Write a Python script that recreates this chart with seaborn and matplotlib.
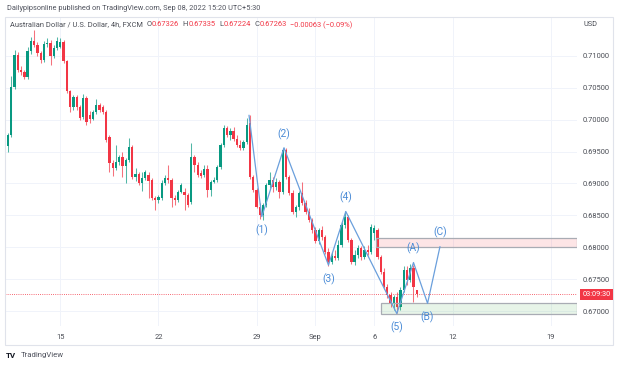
import matplotlib
matplotlib.use("Agg")
import matplotlib.pyplot as plt
import matplotlib.transforms as mtransforms
from matplotlib.patches import Rectangle
import seaborn as sns
import pandas as pd
import numpy as np

# ---------------- data (AUD/USD 4h, FXCM) ----------------
opens = [
    0.6959, 0.6976, 0.7051, 0.7101, 0.7078, 0.7075, 0.7067, 0.7108, 0.7123, 0.7117,
    0.7105, 0.7094, 0.7119, 0.7120, 0.7100, 0.7112, 0.7114, 0.7122, 0.7092, 0.7045,
    0.7020, 0.7036, 0.7020, 0.7004, 0.7034, 0.7007, 0.7001, 0.7012, 0.7023, 0.7020,
    0.7012, 0.6973, 0.6932, 0.6924, 0.6934, 0.6941, 0.6927, 0.6937, 0.6957, 0.6910,
    0.6915, 0.6901, 0.6909, 0.6913, 0.6905, 0.6877, 0.6874, 0.6877, 0.6901, 0.6909,
    0.6905, 0.6877, 0.6874, 0.6887, 0.6887, 0.6882, 0.6871, 0.6941, 0.6929, 0.6916,
    0.6913, 0.6923, 0.6890, 0.6902, 0.6905, 0.6926, 0.6960, 0.6987, 0.6976, 0.6982,
    0.6970, 0.6960, 0.6956, 0.6965, 0.6995, 0.6910, 0.6890, 0.6863, 0.6851, 0.6866,
    0.6898, 0.6905, 0.6894, 0.6902, 0.6887, 0.6952, 0.6910, 0.6885, 0.6855, 0.6863,
    0.6885, 0.6869, 0.6855, 0.6843, 0.6827, 0.6810, 0.6827, 0.6816, 0.6793, 0.6777,
    0.6786, 0.6783, 0.6803, 0.6835, 0.6847, 0.6811, 0.6777, 0.6788, 0.6799, 0.6785,
    0.6796, 0.6793, 0.6822, 0.6827, 0.6785, 0.6761, 0.6738, 0.6725, 0.6713, 0.6722,
    0.6706, 0.6733, 0.6764, 0.6749, 0.6767, 0.67326,
]
highs = [
    0.6979, 0.7068, 0.7109, 0.7106, 0.7084, 0.7078, 0.7114, 0.7130, 0.7141, 0.7122,
    0.7108, 0.7123, 0.7128, 0.7125, 0.7117, 0.7130, 0.7128, 0.7125, 0.7094, 0.7047,
    0.7039, 0.7039, 0.7023, 0.7040, 0.7037, 0.7014, 0.7015, 0.7032, 0.7026, 0.7023,
    0.7015, 0.6976, 0.6937, 0.6960, 0.6945, 0.6949, 0.6940, 0.6971, 0.6960, 0.6924,
    0.6918, 0.6918, 0.6921, 0.6918, 0.6909, 0.6880, 0.6882, 0.6905, 0.6913, 0.6929,
    0.6909, 0.6882, 0.6890, 0.6901, 0.6893, 0.6885, 0.6963, 0.6945, 0.6934, 0.6921,
    0.6929, 0.6929, 0.6905, 0.6910, 0.6929, 0.6963, 0.6992, 0.6990, 0.6987, 0.6989,
    0.6976, 0.6968, 0.6968, 0.7003, 0.7007, 0.6913, 0.6893, 0.6869, 0.6869, 0.6901,
    0.6918, 0.6910, 0.6909, 0.6905, 0.6956, 0.6956, 0.6913, 0.6890, 0.6866, 0.6888,
    0.6902, 0.6874, 0.6862, 0.6846, 0.6832, 0.6830, 0.6833, 0.6819, 0.6799, 0.6793,
    0.6796, 0.6811, 0.6840, 0.6857, 0.6851, 0.6814, 0.6796, 0.6803, 0.6802, 0.6802,
    0.6803, 0.6836, 0.6835, 0.6830, 0.6788, 0.6767, 0.6742, 0.6730, 0.6725, 0.6730,
    0.6738, 0.6771, 0.6771, 0.6774, 0.6772, 0.67335,
]
lows = [
    0.6949, 0.6973, 0.7048, 0.7075, 0.7070, 0.7064, 0.7064, 0.7103, 0.7114, 0.7100,
    0.7089, 0.7090, 0.7114, 0.7086, 0.7097, 0.7109, 0.7112, 0.7089, 0.7042, 0.7012,
    0.7015, 0.7015, 0.6999, 0.7001, 0.6992, 0.6995, 0.6999, 0.7009, 0.7012, 0.7009,
    0.6965, 0.6918, 0.6912, 0.6921, 0.6929, 0.6910, 0.6901, 0.6934, 0.6907, 0.6904,
    0.6898, 0.6888, 0.6905, 0.6877, 0.6874, 0.6858, 0.6869, 0.6874, 0.6898, 0.6901,
    0.6863, 0.6866, 0.6871, 0.6885, 0.6858, 0.6863, 0.6868, 0.6918, 0.6910, 0.6909,
    0.6910, 0.6879, 0.6880, 0.6901, 0.6902, 0.6923, 0.6957, 0.6973, 0.6968, 0.6967,
    0.6957, 0.6952, 0.6952, 0.6962, 0.6907, 0.6887, 0.6862, 0.6844, 0.6843, 0.6863,
    0.6893, 0.6887, 0.6890, 0.6877, 0.6883, 0.6907, 0.6882, 0.6852, 0.6847, 0.6858,
    0.6866, 0.6852, 0.6840, 0.6822, 0.6807, 0.6805, 0.6811, 0.6789, 0.6771, 0.6774,
    0.6780, 0.6780, 0.6800, 0.6830, 0.6808, 0.6774, 0.6772, 0.6783, 0.6780, 0.6782,
    0.6788, 0.6789, 0.6811, 0.6782, 0.6758, 0.6734, 0.6720, 0.6706, 0.6702, 0.6697,
    0.6702, 0.6730, 0.6741, 0.6745, 0.6714, 0.67224,
]
closes = [
    0.6976, 0.7051, 0.7101, 0.7078, 0.7075, 0.7067, 0.7108, 0.7123, 0.7117, 0.7105,
    0.7094, 0.7119, 0.7120, 0.7100, 0.7112, 0.7123, 0.7122, 0.7092, 0.7045, 0.7020,
    0.7036, 0.7020, 0.7003, 0.7034, 0.6996, 0.7001, 0.7012, 0.7023, 0.7015, 0.7012,
    0.6968, 0.6932, 0.6924, 0.6934, 0.6941, 0.6927, 0.6937, 0.6957, 0.6910, 0.6915,
    0.6901, 0.6909, 0.6918, 0.6904, 0.6877, 0.6874, 0.6879, 0.6901, 0.6909, 0.6905,
    0.6877, 0.6874, 0.6887, 0.6898, 0.6882, 0.6866, 0.6941, 0.6929, 0.6913, 0.6912,
    0.6923, 0.6890, 0.6902, 0.6905, 0.6926, 0.6960, 0.6987, 0.6976, 0.6982, 0.6970,
    0.6960, 0.6956, 0.6965, 0.6992, 0.6910, 0.6890, 0.6863, 0.6851, 0.6866, 0.6898,
    0.6905, 0.6894, 0.6902, 0.6887, 0.6952, 0.6910, 0.6885, 0.6855, 0.6863, 0.6885,
    0.6869, 0.6855, 0.6843, 0.6827, 0.6810, 0.6827, 0.6816, 0.6793, 0.6777, 0.6786,
    0.6783, 0.6803, 0.6835, 0.6847, 0.6811, 0.6777, 0.6788, 0.6799, 0.6785, 0.6796,
    0.6793, 0.6832, 0.6830, 0.6785, 0.6761, 0.6738, 0.6725, 0.6713, 0.6722, 0.6706,
    0.6733, 0.6764, 0.6749, 0.6767, 0.6738, 0.67263,
]

date_tick_bars = [16, 46, 76, 94, 112, 136, 166]
date_tick_labels = ["15", "22", "29", "Sep", "6", "12", "19"]
price_ticks = [0.670, 0.675, 0.680, 0.685, 0.690, 0.695, 0.700, 0.705, 0.710]

wave_bars = [73.7, 77.6, 84.4, 98.0, 103.3, 118.9, 124.0, 128.3, 132.1]
wave_prices = [0.7007, 0.6848, 0.6956, 0.6772, 0.6856, 0.6696, 0.6776, 0.6712, 0.6801]
wave_labels = ["", "(1)", "(2)", "(3)", "(4)", "(5)", "(A)", "(B)", "(C)"]

resist_zone = (112.5, 0.6800, 0.6814)
support_zone = (114.0, 0.6695, 0.6712)

last_price = 0.67263
countdown = "03:09:30"

# ---------------- styling ----------------
sns.set_theme(style="white")
plt.rcParams['font.family'] = ['Roboto', 'DejaVu Sans']

UP = "#089981"
DOWN = "#f23645"
WAVE = "#6a9fdc"
WAVE_TXT = "#4a8bd6"
GRID = "#f0f3fa"
TXT = "#4a4d55"

W, H = 625, 367
fig = plt.figure(figsize=(W / 100, H / 100), dpi=100)
fig.patch.set_facecolor("white")
ax = fig.add_axes([5 / W, 1 - 326 / H, (577 - 5) / W, (326 - 17) / H])

XMIN, XMAX = -0.92, 174.0
ax.set_xlim(XMIN, XMAX)
ax.set_ylim(0.66765, 0.71610)

df = pd.DataFrame({"bar": np.arange(len(opens)), "open": opens, "high": highs,
                   "low": lows, "close": closes})
up = df["close"] >= df["open"]
cols = np.where(up, UP, DOWN)
body_lo = np.minimum(df["open"], df["close"])
body_h = np.maximum((df["close"] - df["open"]).abs(), 0.00005)

ax.vlines(df["bar"], df["low"], df["high"], colors=cols, lw=0.75, alpha=0.7, zorder=3)
ax.bar(df["bar"], body_h, bottom=body_lo, width=0.7, color=cols, linewidth=0, zorder=4)

# zones
ax.add_patch(Rectangle((resist_zone[0], resist_zone[1]), XMAX - resist_zone[0],
                       resist_zone[2] - resist_zone[1], fc=(0.95, 0.21, 0.27, 0.13),
                       ec="#a9acb4", lw=0.9, zorder=5, clip_on=True))
ax.add_patch(Rectangle((support_zone[0], support_zone[1]), XMAX - support_zone[0],
                       support_zone[2] - support_zone[1], fc=(0.30, 0.69, 0.31, 0.13),
                       ec="#a9acb4", lw=0.9, zorder=5, clip_on=True))

# current price line
ax.axhline(last_price, color=DOWN, lw=0.6, ls=(0, (1, 1.6)), zorder=2)

# Elliott wave
wave_df = pd.DataFrame({"bar": wave_bars, "price": wave_prices})
sns.lineplot(data=wave_df, x="bar", y="price", ax=ax, color=WAVE, lw=0.9,
             sort=False, estimator=None, zorder=6)
for i, (b, p, lbl) in enumerate(zip(wave_bars, wave_prices, wave_labels)):
    if not lbl:
        continue
    is_low = p < wave_prices[i - 1]
    ax.annotate(lbl, (b, p), xytext=(0, -10 if is_low else 10), textcoords="offset points",
                ha="center", va="center", fontsize=7.4, color=WAVE_TXT, zorder=7)

# axes decoration
for s in ax.spines.values():
    s.set_visible(False)
ax.set_xlabel("")
ax.set_ylabel("")
ax.set_yticks(price_ticks)
ax.set_yticklabels([f"{v:.5f}" for v in price_ticks])
ax.yaxis.tick_right()
ax.set_xticks(date_tick_bars)
ax.set_xticklabels(date_tick_labels)
ax.tick_params(axis="y", length=0, pad=4.3, labelsize=5.4, labelcolor=TXT)
ax.tick_params(axis="x", length=0, pad=5.5, labelsize=5.4, labelcolor=TXT)
ax.grid(True, color=GRID, lw=0.7)
ax.set_axisbelow(True)

# outer frame
fig.add_artist(Rectangle((5 / W, 1 - 345 / H), 608 / W, 328 / H, transform=fig.transFigure,
                         fill=False, ec="#e0e3eb", lw=0.8))

# price scale extras
fig.text(583 / W, 1 - 25 / H, "USD", fontsize=5.3, color=TXT, va="center", ha="left")
blend = mtransforms.blended_transform_factory(fig.transFigure, ax.transData)
fig.text(596.5 / W, last_price, countdown, transform=blend, fontsize=5.3, color="white",
         ha="center", va="center",
         bbox=dict(boxstyle="square,pad=0.3", fc=DOWN, ec="none"))

# header
fig.text(7 / W, 1 - 8 / H, "Dailypipsonline published on TradingView.com, Sep 08, 2022 15:20 UTC+5:30",
         fontsize=5.35, color="#50535e", va="center", ha="left")

# legend line, laid out piece by piece (gap in px after each piece)
y2 = 1 - 25 / H
pieces = [
    ("Australian Dollar / U.S. Dollar, 4h, FXCM", TXT, 3.5),
    ("O", TXT, 0.4), ("0.67326", DOWN, 3.5),
    ("H", TXT, 0.4), ("0.67335", DOWN, 3.5),
    ("L", TXT, 0.4), ("0.67224", DOWN, 3.5),
    ("C", TXT, 0.4), ("0.67263", DOWN, 3.5),
    ("\u22120.00063 (\u22120.09%)", DOWN, 0),
]
renderer = fig.canvas.get_renderer()
xpos = 10.0
for s, c, gap in pieces:
    t = fig.text(xpos / W, y2, s, fontsize=5.4, color=c, va="center", ha="left")
    bb = t.get_window_extent(renderer=renderer)
    xpos += bb.width + gap

# footer
fig.text(6 / W, 1 - 355 / H, "TV", fontsize=5.8, fontweight="bold", color="#131722",
         va="center", ha="left")
fig.text(21 / W, 1 - 355 / H, "TradingView", fontsize=5.6, color="#50535e",
         va="center", ha="left")

fig.savefig("out.png", dpi=100, facecolor="white")
